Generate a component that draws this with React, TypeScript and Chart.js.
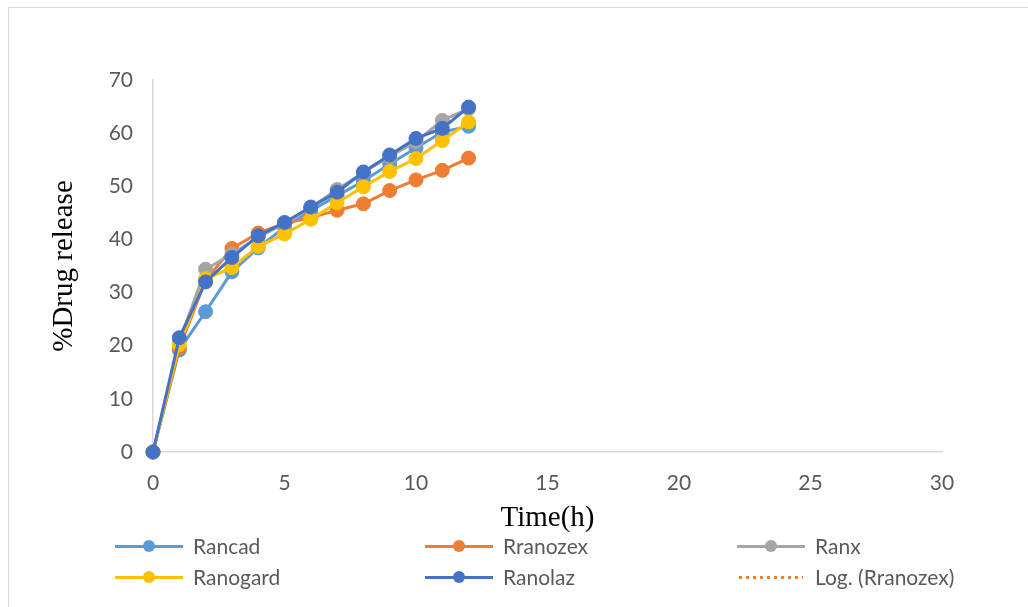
import React, { useEffect, useRef } from "react";
import { Chart, registerables } from "chart.js";

Chart.register(...registerables);

const timeHours = [0, 1, 2, 3, 4, 5, 6, 7, 8, 9, 10, 11, 12];
const rancad = [0, 19.2, 26.4, 33.9, 38.4, 42.3, 45.4, 48.2, 51.0, 54.2, 57.2, 60.2, 61.3];
const rranozex = [0, 19.6, 32.3, 38.3, 41.2, 43.0, 44.1, 45.5, 46.7, 49.2, 51.2, 53.0, 55.3];
const ranx = [0, 20.8, 34.4, 37.2, 40.4, 43.0, 46.0, 49.4, 52.6, 55.6, 58.4, 62.4, 64.6];
const ranogard = [0, 20.2, 32.6, 34.7, 38.7, 41.0, 43.8, 46.9, 49.9, 52.8, 55.2, 58.6, 62.1];
const ranolaz = [0, 21.5, 32.0, 36.6, 40.7, 43.2, 46.1, 48.9, 52.7, 55.9, 59.0, 60.9, 64.9];

const seriesNames = ["Rancad", "Rranozex", "Ranx", "Ranogard", "Ranolaz"];
const seriesColors = ["#5B9BD5", "#ED7D31", "#A5A5A5", "#FFC000", "#4472C4"];
const seriesValues = [rancad, rranozex, ranx, ranogard, ranolaz];
const trendName = "Log. (Rranozex)";

const xTicks = { min: 0, max: 30, step: 5 };
const yTicks = { min: 0, max: 70, step: 10 };

const TICK_FONT = "Lato";
const TITLE_FONT = "'Liberation Serif', 'Times New Roman', serif";

type LegendItem = { name: string; color: string; dotted?: boolean };

const legendItems: LegendItem[] = [
  { name: seriesNames[0], color: seriesColors[0] },
  { name: seriesNames[1], color: seriesColors[1] },
  { name: seriesNames[2], color: seriesColors[2] },
  { name: seriesNames[3], color: seriesColors[3] },
  { name: seriesNames[4], color: seriesColors[4] },
  { name: trendName, color: seriesColors[1], dotted: true },
];

const colLeft = [115, 425, 737];
const rowCenter = [546, 577];

export default function App() {
  const canvasRef = useRef<HTMLCanvasElement | null>(null);

  useEffect(() => {
    if (!canvasRef.current) return;
    const datasets: any[] = seriesNames.map((name, i) => ({
      label: name,
      data: timeHours.map((t, j) => ({ x: t, y: seriesValues[i][j] })),
      borderColor: seriesColors[i],
      backgroundColor: seriesColors[i],
      pointBackgroundColor: seriesColors[i],
      pointBorderColor: seriesColors[i],
      pointRadius: 7,
      pointBorderWidth: 1,
      borderWidth: 3,
      tension: 0,
      clip: false,
      order: seriesNames.length - i,
    }));
    datasets.push({
      label: trendName,
      data: [],
      borderColor: seriesColors[1],
      borderDash: [2, 2],
      borderWidth: 2,
      pointRadius: 0,
      order: 10,
    });

    const chart = new Chart(canvasRef.current, {
      type: "line",
      data: { datasets },
      options: {
        animation: false,
        responsive: false,
        maintainAspectRatio: false,
        layout: { padding: { left: 30, right: 86, top: 80, bottom: 71 } },
        plugins: {
          legend: { display: false },
          tooltip: { enabled: false },
        },
        scales: {
          x: {
            type: "linear",
            min: xTicks.min,
            max: xTicks.max,
            grid: { display: false, drawTicks: false },
            border: { display: true, color: "#D9D9D9", width: 1.5 },
            ticks: {
              stepSize: xTicks.step,
              padding: 19,
              color: "#595959",
              font: { family: TICK_FONT, size: 21 },
            },
            title: {
              display: true,
              text: "Time(h)",
              color: "#000000",
              font: { family: TITLE_FONT, size: 29 },
              padding: { top: 0, bottom: 0 },
            },
            afterFit: (scale: any) => {
              scale.height = 84;
            },
          },
          y: {
            type: "linear",
            min: yTicks.min,
            max: yTicks.max,
            grid: { display: false, drawTicks: false },
            border: { display: true, color: "#D9D9D9", width: 1.5 },
            ticks: {
              stepSize: yTicks.step,
              padding: 20,
              color: "#595959",
              font: { family: TICK_FONT, size: 21 },
            },
            title: {
              display: true,
              text: "%Drug release",
              color: "#000000",
              font: { family: TITLE_FONT, size: 29 },
              padding: { top: 17, bottom: 0 },
            },
            afterFit: (scale: any) => {
              scale.width = 123;
            },
          },
        },
      },
    });
    return () => chart.destroy();
  }, []);

  return (
    <div
      style={{
        position: "absolute",
        left: 0,
        top: 0,
        width: 1028,
        height: 607,
        background: "#ffffff",
        overflow: "hidden",
      }}
    >
      <div
        style={{
          position: "absolute",
          left: 8,
          top: 7,
          width: 1040,
          height: 620,
          borderLeft: "1.5px solid #D9D9D9",
          borderTop: "1.5px solid #D9D9D9",
        }}
      />
      <canvas
        ref={canvasRef}
        width={1028}
        height={607}
        style={{ position: "absolute", left: 0, top: 0, width: 1028, height: 607 }}
      />
      {legendItems.map((item, idx) => {
        const col = idx % 3;
        const row = Math.floor(idx / 3);
        const left = colLeft[col];
        const cy = rowCenter[row];
        return (
          <div
            key={item.name}
            style={{
              position: "absolute",
              left,
              top: cy - 15,
              height: 30,
              display: "flex",
              alignItems: "center",
              whiteSpace: "nowrap",
            }}
          >
            <div style={{ position: "relative", width: 68, height: 30, marginRight: 10 }}>
              {item.dotted ? (
                <div
                  style={{
                    position: "absolute",
                    left: 2,
                    right: 2,
                    top: 13.5,
                    height: 3,
                    background: `repeating-linear-gradient(to right, ${item.color} 0px, ${item.color} 3px, transparent 3px, transparent 7px)`,
                  }}
                />
              ) : (
                <>
                  <div
                    style={{
                      position: "absolute",
                      left: 0,
                      right: 0,
                      top: 13.5,
                      height: 3,
                      background: item.color,
                    }}
                  />
                  <div
                    style={{
                      position: "absolute",
                      left: 28,
                      top: 9,
                      width: 12,
                      height: 12,
                      borderRadius: 6,
                      background: item.color,
                    }}
                  />
                </>
              )}
            </div>
            <span
              style={{
                fontFamily: TICK_FONT,
                fontSize: 21,
                color: "#595959",
                lineHeight: "30px",
              }}
            >
              {item.name}
            </span>
          </div>
        );
      })}
    </div>
  );
}
